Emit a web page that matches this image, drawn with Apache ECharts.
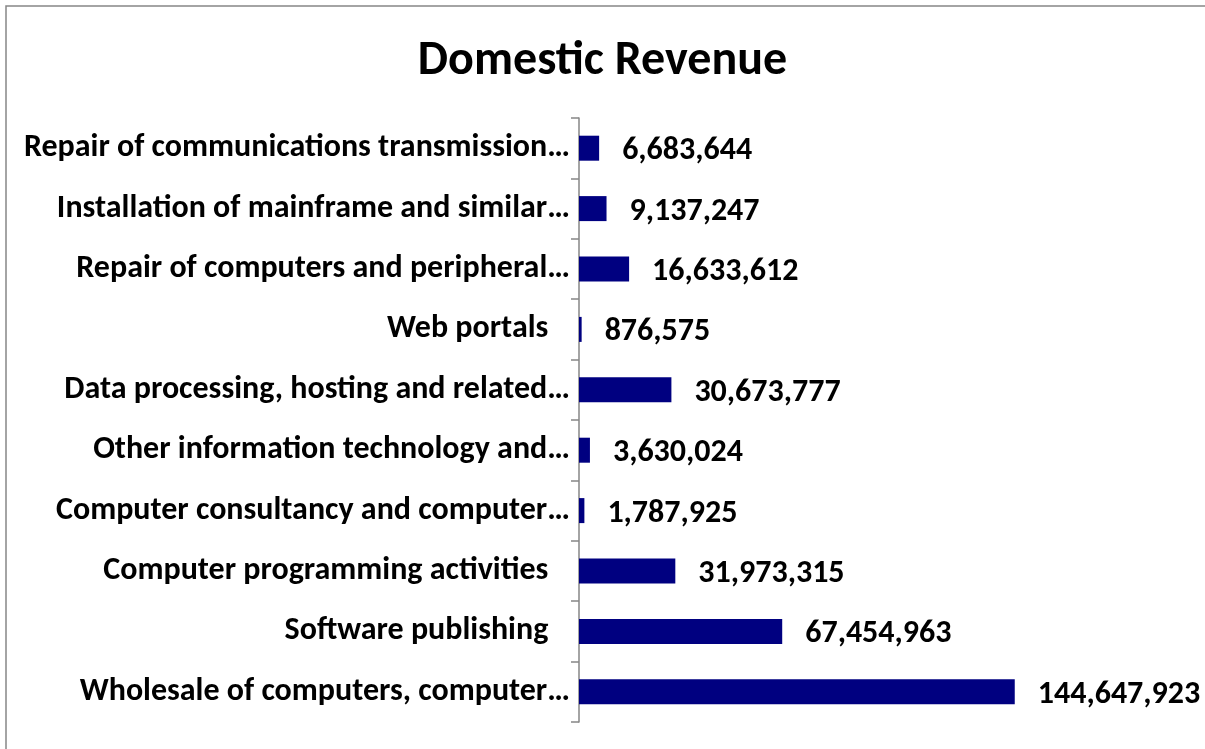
<!DOCTYPE html>
<html>
<head>
<meta charset="utf-8">
<script src="https://cdn.jsdelivr.net/npm/echarts@6/dist/echarts.min.js"></script>
<style>
  html, body { margin: 0; padding: 0; background: #fff; }
  #chart { width: 1205px; height: 749px; }
</style>
</head>
<body>
<div id="chart"></div>
<script>
  // categories top to bottom, as in the picture (some names carry trailing spaces)
  const categories = [
    'Repair of communications transmission…',
    'Installation of mainframe and similar…',
    'Repair of computers and peripheral…',
    'Web portals   ',
    'Data processing, hosting and related…',
    'Other information technology and…',
    'Computer consultancy and computer…',
    'Computer programming activities   ',
    'Software publishing   ',
    'Wholesale of computers, computer…'
  ];
  const revenue = [6683644, 9137247, 16633612, 876575, 30673777, 3630024, 1787925, 31973315, 67454963, 144647923];

  const font = "Carlito, 'Open Sans', sans-serif";

  let myChart = echarts.init(document.getElementById('chart'));
  myChart.setOption({
    animation: false,
    title: {
      text: 'Domestic Revenue',
      left: 'center',
      top: 33,
      textStyle: { fontFamily: font, fontWeight: 'bold', fontSize: 48, color: '#000' }
    },
    graphic: [{
      type: 'rect',
      shape: { x: 6, y: 6, width: 1220, height: 760 },
      style: { fill: 'none', stroke: '#868686', lineWidth: 1.5 }
    }],
    grid: { left: 579, top: 118, bottom: 27, width: 482 },
    xAxis: {
      type: 'value',
      min: 0,
      max: 160000000,
      show: false
    },
    yAxis: {
      type: 'category',
      inverse: true,
      data: categories,
      axisLine: { lineStyle: { color: '#868686', width: 1.5 } },
      axisTick: { show: true, length: 8, lineStyle: { color: '#868686', width: 1.5 } },
      axisLabel: { margin: 9, fontFamily: font, fontWeight: 'bold', fontSize: 32, color: '#000' }
    },
    series: [{
      type: 'bar',
      data: revenue,
      barWidth: 25,
      itemStyle: { color: '#000080' },
      label: {
        show: true,
        position: 'right',
        distance: 23,
        offset: [0, 3],
        fontFamily: font,
        fontWeight: 'bold',
        fontSize: 32,
        color: '#000',
        formatter: p => p.value.toLocaleString('en-US')
      }
    }]
  });

  window.addEventListener('resize', () => {
    myChart.resize();
  });
</script>
</body>
</html>
